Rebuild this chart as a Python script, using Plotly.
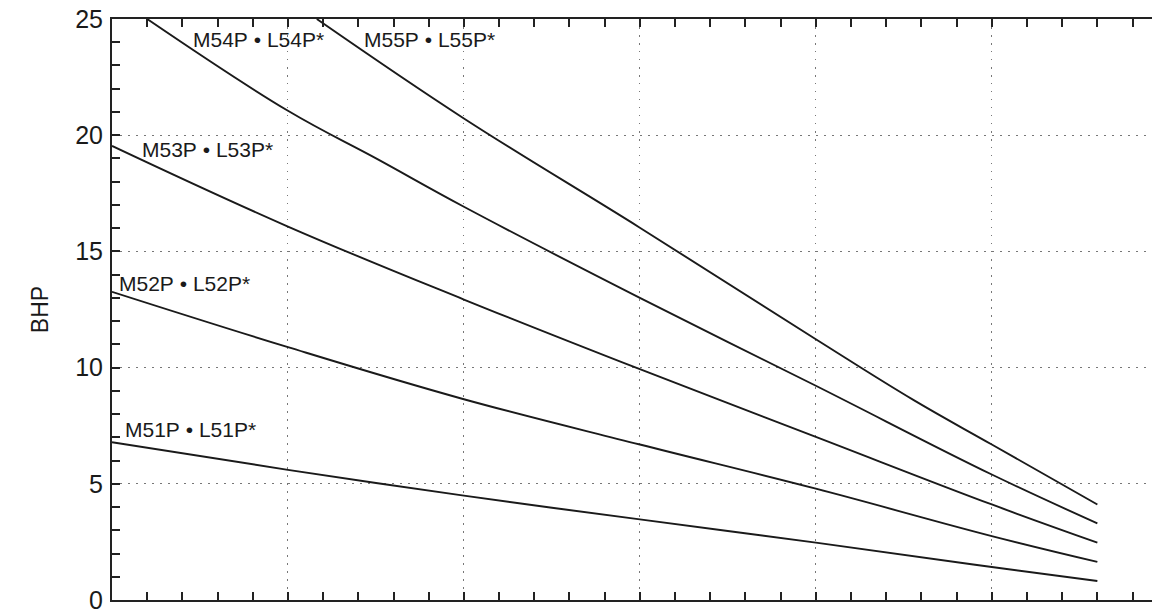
import plotly.graph_objects as go

# Data (x in arbitrary flow units, y = BHP)
x_pts = [0, 5, 10, 15, 20, 25, 28]

m51 = [6.79, 5.60, 4.49, 3.47, 2.47, 1.42, 0.82]
m52 = [13.26, 10.88, 8.64, 6.69, 4.79, 2.75, 1.64]
m53 = [19.54, 16.07, 12.93, 9.93, 7.02, 4.11, 2.47]

x54 = [1.0, 5, 7.53, 10, 15, 20, 25, 28]
m54 = [25.0, 21.05, 18.98, 16.92, 13.0, 9.22, 5.40, 3.30]

x55 = [5.82, 10, 15, 20, 22.77, 25, 28]
m55 = [25.0, 20.72, 16.02, 11.22, 8.61, 6.69, 4.11]

labels = ["M51P\u00a0•\u00a0L51P*", "M52P\u00a0•\u00a0L52P*", "M53P\u00a0•\u00a0L53P*",
          "M54P\u00a0•\u00a0L54P*", "M55P\u00a0•\u00a0L55P*"]
label_x = [0.30, 0.13, 0.80, 2.25, 7.10]
label_y = [7.32, 13.63, 19.37, 24.1, 24.1]

y_ticks = [0, 5, 10, 15, 20, 25]

series = [(x_pts, m51), (x_pts, m52), (x_pts, m53), (x54, m54), (x55, m55)]

FONT = "Liberation Sans, Arial, sans-serif"

fig = go.Figure()
for xs, ys in series:
    fig.add_trace(go.Scatter(x=xs, y=ys, mode="lines",
                             line=dict(color="#1a1a1a", width=1.9, shape="spline", smoothing=1.1),
                             showlegend=False, hoverinfo="skip"))

for t, lx, ly in zip(labels, label_x, label_y):
    fig.add_annotation(x=lx, y=ly, xref="x", yref="y", text=t, showarrow=False,
                       xanchor="left", yanchor="middle",
                       font=dict(family=FONT, size=21, color="#1a1a1a"))

axis_common = dict(
    showline=True, linewidth=2, linecolor="#222",
    ticks="inside", ticklen=8, tickwidth=1.5, tickcolor="#222",
    showgrid=True, gridcolor="#777", gridwidth=1, griddash="1.5px,6.5px",
    zeroline=False, automargin=False,
)

fig.update_xaxes(range=[0, 29.78], dtick=5, tick0=0, showticklabels=False, mirror="ticks",
                 minor=dict(dtick=1, ticks="inside", ticklen=8, tickwidth=1.5, tickcolor="#222",
                            showgrid=False),
                 **axis_common)
fig.update_yaxes(range=[0, 25], tickvals=y_ticks, ticktext=[str(v) for v in y_ticks],
                 tickfont=dict(family=FONT, size=25, color="#1a1a1a"),
                 ticklabelstandoff=2, ticklabeloverflow="allow",
                 minor=dict(dtick=1, ticks="inside", ticklen=8, tickwidth=1.5, tickcolor="#222",
                            showgrid=False),
                 title=dict(text="BHP", standoff=20,
                            font=dict(family=FONT, size=23, color="#1a1a1a")),
                 **axis_common)

# The page body has an 8px default margin, so the figure is sized and offset to fit.
fig.update_layout(width=1152, height=601, margin=dict(l=104, r=0, t=11, b=9),
                  plot_bgcolor="white", paper_bgcolor="white")

fig.write_html("out.html")
